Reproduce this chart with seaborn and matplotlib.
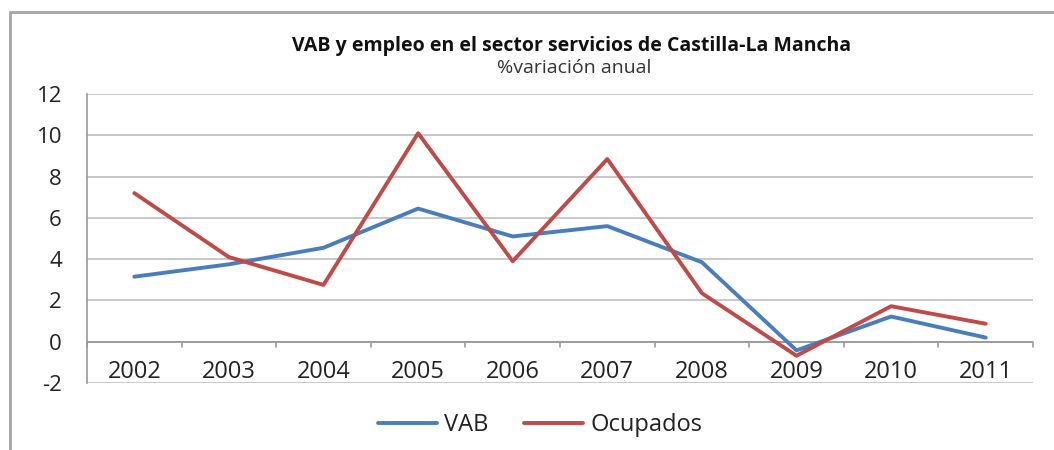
import matplotlib
matplotlib.use("Agg")
import matplotlib.pyplot as plt
from matplotlib.lines import Line2D
from matplotlib.ticker import MultipleLocator
import matplotlib.transforms as mtransforms
import seaborn as sns
import pandas as pd

years = ["2002", "2003", "2004", "2005", "2006", "2007", "2008", "2009", "2010", "2011"]
vab = [3.15, 3.75, 4.55, 6.45, 5.1, 5.6, 3.85, -0.42, 1.22, 0.2]
ocupados = [7.2, 4.1, 2.75, 10.1, 3.9, 8.85, 2.35, -0.68, 1.72, 0.87]
series_names = ["VAB", "Ocupados"]
title = "VAB y empleo en el sector servicios de Castilla-La Mancha"
subtitle = "%variación anual"

df = pd.DataFrame({"year": years, "VAB": vab, "Ocupados": ocupados})
long = df.melt(id_vars="year", value_vars=series_names, var_name="serie", value_name="valor")

sns.set_theme(style="white")
plt.rcParams["font.family"] = ["Open Sans", "DejaVu Sans"]
plt.rcParams["axes.unicode_minus"] = False

W, H = 1054, 450
fig = plt.figure(figsize=(W / 100, H / 100), dpi=100)
ax = fig.add_axes([87 / W, 1 - 383 / H, (1033 - 87) / W, (383 - 94) / H])

palette = {"VAB": "#4A7EBB", "Ocupados": "#BE4B48"}
LW = 2.8
sns.lineplot(data=long, x="year", y="valor", hue="serie", palette=palette,
             linewidth=LW, ax=ax, sort=False, legend=True)

ax.set_xlim(-0.5, len(years) - 0.5)
ax.set_ylim(-2, 12)
ax.yaxis.set_major_locator(MultipleLocator(2))
ax.grid(axis="y", color="#BFBFBF", linewidth=1.2)
ax.set_axisbelow(True)
ax.set_xlabel("")
ax.set_ylabel("")

for s in ["top", "right", "bottom"]:
    ax.spines[s].set_visible(False)
ax.spines["left"].set_color("#9A9A9A")
ax.spines["left"].set_linewidth(1.2)
ax.axhline(0, color="#9A9A9A", linewidth=1.3, zorder=1.5)

ax.set_xticks(range(len(years)))
ax.set_xticklabels(years)
ax.tick_params(axis="x", which="major", length=0, pad=13, labelsize=17, colors="#222222")
ax.tick_params(axis="y", which="major", length=7, width=1.2, color="#9A9A9A", pad=11,
               labelsize=16, labelcolor="#222222")
for b in [i + 0.5 for i in range(-1, len(years))]:
    ax.plot([b, b], [0, -0.25], color="#9A9A9A", linewidth=1.2, clip_on=False, zorder=1.5)
offset = mtransforms.ScaledTranslation(0, (383 - 342) / 100, fig.dpi_scale_trans)
for lbl in ax.get_xticklabels():
    lbl.set_transform(lbl.get_transform() + offset)

leg = ax.legend(handles=[Line2D([], [], color=palette[n], linewidth=LW) for n in series_names],
                labels=series_names, loc="center", bbox_to_anchor=(540 / W, 1 - 425 / H),
                bbox_transform=fig.transFigure, ncol=2, frameon=False, fontsize=17,
                handlelength=2.5, handletextpad=0.3, columnspacing=1.5)
for t in leg.get_texts():
    t.set_color("#222222")

fig.text(572 / W, 1 - 46 / H, title, ha="center", va="center", fontsize=14,
         fontweight="bold", color="#111111")
fig.text(574 / W, 1 - 68 / H, subtitle, ha="center", va="center", fontsize=14,
         color="#333333")

fig.add_artist(Line2D([10 / W, 10 / W], [0, 1 - 12 / H], transform=fig.transFigure,
                      color="#A6A6A6", linewidth=2))
fig.add_artist(Line2D([10 / W, 1], [1 - 12 / H, 1 - 12 / H], transform=fig.transFigure,
                      color="#A6A6A6", linewidth=2))

fig.savefig("out.png", dpi=100)
